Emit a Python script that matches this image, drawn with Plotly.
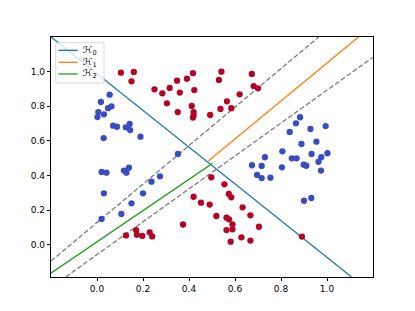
import plotly.graph_objects as go

# ---- data ----
blue_x = [0.055, 0.017, 0.063, 0.048, 0.006, 0.030, 0.002, 0.070, 0.087, 0.125, 0.142, 0.144, 0.189, 0.029,
          0.352, 0.020, 0.041, 0.117, 0.139, 0.128, 0.274, 0.237, 0.030, 0.200, 0.150, 0.106, 0.020,
          0.883, 0.865, 0.838, 0.928, 0.994, 0.889, 0.954, 0.806, 0.933, 1.002, 0.975, 0.730, 0.847,
          0.868, 0.963, 0.899, 0.910, 0.674, 0.716, 0.804, 0.974, 0.696, 0.716, 0.754, 0.900, 0.932]
blue_y = [0.867, 0.825, 0.800, 0.789, 0.767, 0.754, 0.738, 0.688, 0.682, 0.679, 0.698, 0.663, 0.625, 0.617,
          0.525, 0.421, 0.417, 0.429, 0.446, 0.417, 0.396, 0.365, 0.298, 0.298, 0.240, 0.179, 0.150,
          0.737, 0.702, 0.652, 0.669, 0.686, 0.583, 0.596, 0.540, 0.525, 0.529, 0.506, 0.506, 0.500,
          0.500, 0.480, 0.463, 0.457, 0.460, 0.456, 0.448, 0.429, 0.404, 0.386, 0.388, 0.255, 0.271]

red_x = [0.104, 0.160, 0.150, 0.250, 0.284, 0.316, 0.348, 0.360, 0.391, 0.417, 0.423, 0.304, 0.351, 0.412,
         0.420, 0.420, 0.417, 0.492, 0.541, 0.530, 0.673, 0.681, 0.700, 0.620, 0.565, 0.537, 0.584,
         0.497, 0.554, 0.573, 0.584, 0.452, 0.490, 0.633, 0.519, 0.563, 0.574, 0.667, 0.589, 0.704,
         0.563, 0.589, 0.628, 0.667, 0.581, 0.891, 0.420, 0.374, 0.170, 0.126, 0.173, 0.197, 0.229, 0.240]
red_y = [0.994, 0.998, 0.944, 0.898, 0.875, 0.906, 0.948, 0.879, 0.959, 0.991, 0.894, 0.817, 0.767, 0.802,
         0.767, 0.748, 0.735, 0.750, 1.000, 0.952, 0.987, 0.917, 0.904, 0.869, 0.829, 0.785, 0.789,
         0.390, 0.350, 0.294, 0.275, 0.244, 0.233, 0.217, 0.167, 0.157, 0.148, 0.171, 0.119, 0.105,
         0.086, 0.090, 0.044, 0.025, 0.019, 0.048, 0.278, 0.118, 0.086, 0.055, 0.059, 0.052, 0.073, 0.049]

# line segments (end points in data units)
h0_x = [-0.2, 1.107]
h0_y = [1.2, -0.185]
h1_x = [0.484, 1.137]
h1_y = [0.484, 1.2]
h2_x = [-0.2, 0.502]
h2_y = [-0.163, 0.471]
upper_x = [-0.2, 0.964]
upper_y = [-0.093, 1.2]
lower_x = [-0.136, 1.2]
lower_y = [-0.185, 1.083]

x_ticks = [0.0, 0.2, 0.4, 0.6, 0.8, 1.0]
x_tick_labels = ["0.0", "0.2", "0.4", "0.6", "0.8", "1.0"]
y_ticks = [0.0, 0.2, 0.4, 0.6, 0.8, 1.0]
y_tick_labels = ["0.0", "0.2", "0.4", "0.6", "0.8", "1.0"]

legend_names = ["ℋ<sub>0</sub>", "ℋ<sub>1</sub>", "ℋ<sub>2</sub>"]
legend_colors = ["#1f77b4", "#ff7f0e", "#2ca02c"]

fig = go.Figure()
lw = 1.35
fig.add_trace(go.Scatter(x=h0_x, y=h0_y, mode="lines", name=legend_names[0],
                         line=dict(color=legend_colors[0], width=lw)))
fig.add_trace(go.Scatter(x=h1_x, y=h1_y, mode="lines", name=legend_names[1],
                         line=dict(color=legend_colors[1], width=lw)))
fig.add_trace(go.Scatter(x=h2_x, y=h2_y, mode="lines", name=legend_names[2],
                         line=dict(color=legend_colors[2], width=lw)))
for xs, ys in [(upper_x, upper_y), (lower_x, lower_y)]:
    fig.add_trace(go.Scatter(x=xs, y=ys, mode="lines",
                             line=dict(color="#808080", width=lw, dash="5px,2.2px")))
fig.add_trace(go.Scatter(x=blue_x, y=blue_y, mode="markers",
                         marker=dict(color="#3b4cc0", size=6.3, line=dict(width=0))))
fig.add_trace(go.Scatter(x=red_x, y=red_y, mode="markers",
                         marker=dict(color="#b40426", size=6.3, line=dict(width=0))))

# ---- hand-built legend (matplotlib-like compact box), paper coords of plot area ----
PW, PH = 321.7, 239.7          # plot area size in px
def px2x(dx):
    return dx / PW
def py2y(dy):
    return 1 - dy / PH

# rounded box
bx0, bx1, by0, by1, r = 4.7, 53.0, 5.7, 46.0, 2.0
X = lambda v: f"{px2x(v):.5f}"
Y = lambda v: f"{py2y(v):.5f}"
box_path = (f"M {X(bx0 + r)},{Y(by0)} L {X(bx1 - r)},{Y(by0)} Q {X(bx1)},{Y(by0)} {X(bx1)},{Y(by0 + r)} "
            f"L {X(bx1)},{Y(by1 - r)} Q {X(bx1)},{Y(by1)} {X(bx1 - r)},{Y(by1)} "
            f"L {X(bx0 + r)},{Y(by1)} Q {X(bx0)},{Y(by1)} {X(bx0)},{Y(by1 - r)} "
            f"L {X(bx0)},{Y(by0 + r)} Q {X(bx0)},{Y(by0)} {X(bx0 + r)},{Y(by0)} Z")
shapes = [dict(type="path", xref="paper", yref="paper", path=box_path,
               fillcolor="rgba(255,255,255,0.8)", line=dict(color="#cccccc", width=0.8),
               layer="above")]
annotations = []
row_y = [13.3, 25.3, 36.9]
for name, col, ry in zip(legend_names, legend_colors, row_y):
    shapes.append(dict(type="line", xref="paper", yref="paper",
                       x0=px2x(7.4), x1=px2x(26.7), y0=py2y(ry), y1=py2y(ry),
                       line=dict(color=col, width=lw), layer="above"))
    annotations.append(dict(text=name, xref="paper", yref="paper",
                            x=px2x(29.6), y=py2y(ry), xanchor="left", yanchor="middle",
                            showarrow=False,
                            font=dict(family="DejaVu Sans", size=9.5, color="black")))

axis_common = dict(showgrid=False, zeroline=False, showline=True, mirror=True,
                   linecolor="black", linewidth=0.8, ticks="outside", ticklen=3.2,
                   tickwidth=0.8, tickcolor="black",
                   tickfont=dict(family="DejaVu Sans", size=9, color="black"))
# page body has an 8px margin: size/offset the figure so the plot area lands where the reference's does
fig.update_layout(
    width=407, height=303,
    margin=dict(l=43.3, r=42.0, t=29.0, b=34.3, pad=0),
    paper_bgcolor="white", plot_bgcolor="white",
    xaxis=dict(range=[-0.2, 1.2], tickvals=x_ticks, ticktext=x_tick_labels, **axis_common),
    yaxis=dict(range=[-0.185, 1.2], tickvals=y_ticks, ticktext=y_tick_labels, **axis_common),
    showlegend=False,
    shapes=shapes,
    annotations=annotations,
)
fig.write_html("out.html")
